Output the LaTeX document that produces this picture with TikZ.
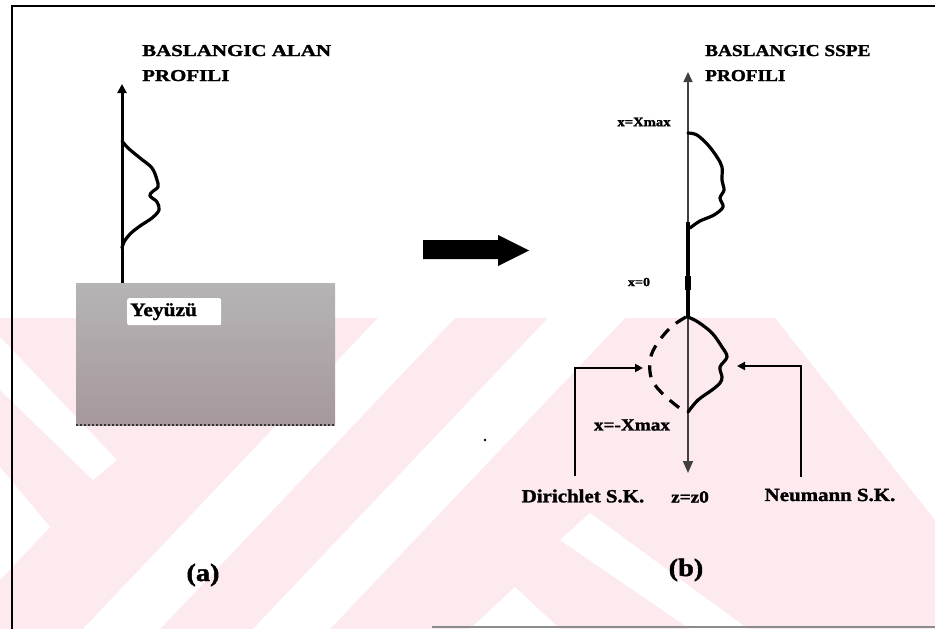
\documentclass[tikz,border=0pt]{standalone}
\usepackage{fontspec}
\setmainfont{Liberation Serif}
\newfontfamily\ttlAfont[FakeStretch=1.26,FakeBold=1.6]{Liberation Serif}
\newfontfamily\ttlBfont[FakeStretch=1.16,FakeBold=1.6]{Liberation Serif}
\newfontfamily\lblfont[FakeStretch=1.13,FakeBold=1.6]{Liberation Serif}
\usetikzlibrary{arrows.meta}
\definecolor{wmpink}{RGB}{253,234,238}
\definecolor{gtop}{RGB}{182,180,181}
\definecolor{gbot}{RGB}{166,152,156}
\begin{document}
\begin{tikzpicture}[x=1pt,y=-1pt,
  axisline/.style={line width=3pt,-{Triangle[width=9pt,length=9pt]}},
  thinaxis/.style={line width=1.6pt,black!75,{Triangle[width=9pt,length=10pt]}-{Triangle[width=10pt,length=12pt]}},
  prof/.style={line width=3.2pt,line cap=round,line join=round},
  conn/.style={line width=2.8pt,-{Triangle[width=8pt,length=8pt]}},
  ttlA/.style={inner sep=0pt,anchor=base west,font=\ttlAfont\bfseries\fontsize{16.6}{20}\selectfont},
  ttlB/.style={inner sep=0pt,anchor=base west,font=\ttlBfont\bfseries\fontsize{16.6}{20}\selectfont},
  lbl/.style={inner sep=0pt,font=\lblfont\bfseries\fontsize{18.5}{22}\selectfont}
]
\useasboundingbox (0,0) rectangle (935,629);
% watermark
\fill[wmpink] (0,318) -- (775,318) -- (935,520) -- (935,629) -- (0,629) -- cycle;
\fill[white] (0,337) -- (117,460) -- (93,480) -- (0,390) -- cycle;
\fill[white] (0,467) -- (50,527) -- (0,580) -- cycle;
\fill[white] (378,318) -- (455,318) -- (160,629) -- (83,629) -- cycle;
\fill[white] (548,318) -- (625,318) -- (330,629) -- (253,629) -- cycle;
\fill[white] (590,513) -- (748,629) -- (690,629) -- (560,540) -- cycle;
\fill[white] (515,587) -- (560,629) -- (470,629) -- cycle;
% frame
\draw[line width=2pt] (12,629) -- (12,6) -- (935,6);
\draw[line width=1.5pt,black!45] (432,627) -- (935,627);
% panel (a)
\node[ttlA] (tA1) at (142,56) {BASLANGIC ALAN};
\node[ttlA] (tA2) at (142,81) {PROFILI};
\node[anchor=north west,minimum width=259pt,minimum height=142pt,inner sep=0pt,
      top color=gtop,bottom color=gbot] (ground) at (76,283) {};
\draw[line width=2pt,dotted,black!80] (ground.south west) -- (ground.south east);
\node[anchor=north west,fill=white,rounded corners=2pt,text width=88pt,align=left,
      inner xsep=3pt,inner ysep=0pt,minimum height=27pt,
      font=\lblfont\bfseries\fontsize{19}{22}\selectfont] (yey) at (127,298) {Yeyüzü};
\coordinate (aBase) at (122,283);
\coordinate (aTop) at (122,84);
\draw[axisline] (aBase) -- (aTop);
\draw[prof] plot[smooth,tension=0.55] coordinates {(122,141) (128,148) (140,158) (152,168) (157,180) (158,187) (152,192) (150,196) (157,202) (159,210) (152,218) (140,226) (130,234) (124,242) (122,248)};
\node[lbl,font=\lblfont\bfseries\fontsize{25}{28}\selectfont] (capA) at (203,575) {(a)};
% big arrow
\fill (423,240) -- (498,240) -- (498,235) -- (529,250.5) -- (498,266) -- (498,259) -- (423,259) -- cycle;
% panel (b)
\node[ttlB] (tB1) at (705,56) {BASLANGIC SSPE};
\node[ttlB] (tB2) at (705,81) {PROFILI};
\coordinate (bTop) at (688,72);
\coordinate (bBot) at (688,473);
\draw[thinaxis] (bTop) -- (bBot);
\draw[line width=3.5pt] (688,222) -- (688,318);
\fill (685,276) rectangle (691,290);
\draw[prof] plot[smooth,tension=0.55] coordinates {(688,133) (697,135) (708,145) (717,157) (722,167) (722,180) (724,190) (720,198) (723,207) (714,215) (700,221) (690,228)};
\draw[prof] plot[smooth,tension=0.55] coordinates {(688,317) (698,322) (712,333) (722,347) (727,357) (720,367) (722,377) (720,383) (712,390) (698,400) (688,412)};
\draw[prof,line cap=butt,dash pattern=on 12pt off 9pt] plot[smooth,tension=0.6] coordinates {(686,317) (670,328) (655,347) (650,362) (652,380) (665,396) (686,413)};
\node[lbl,font=\lblfont\bfseries\fontsize{13}{15}\selectfont] (lxmax) at (644,122) {x=Xmax};
\node[lbl,font=\lblfont\bfseries\fontsize{12.5}{15}\selectfont] (lx0) at (639,282) {x=0};
\node[lbl,font=\lblfont\bfseries\fontsize{17}{20}\selectfont] (lxmin) at (632,425) {x=-Xmax};
\node[lbl,font=\lblfont\bfseries\fontsize{17}{20}\selectfont] (lz0) at (690,497) {z=z0};
\node[lbl] (ldir) at (583,496) {Dirichlet S.K.};
\node[lbl] (lneu) at (830,495) {Neumann S.K.};
\coordinate (dirFoot) at (575,476);
\coordinate (dirTip) at (643,368);
\draw[conn] (dirFoot) |- (dirTip);
\coordinate (neuFoot) at (801,477);
\coordinate (neuTip) at (737,366);
\draw[conn] (neuFoot) |- (neuTip);
\fill (485,440) circle (1.3pt);
\node[lbl,font=\lblfont\bfseries\fontsize{25}{28}\selectfont] (capB) at (686,570) {(b)};
\end{tikzpicture}
\end{document}
